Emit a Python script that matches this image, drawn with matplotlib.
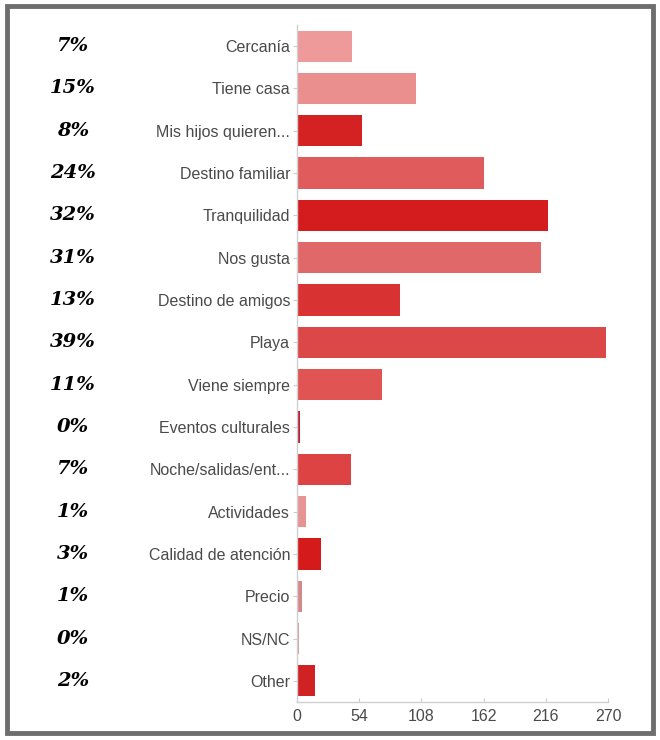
import matplotlib.pyplot as plt
import matplotlib.transforms as mtransforms
from matplotlib.patches import Rectangle

categories = ['Cercanía', 'Tiene casa', 'Mis hijos quieren...', 'Destino familiar',
              'Tranquilidad', 'Nos gusta', 'Destino de amigos', 'Playa',
              'Viene siempre', 'Eventos culturales', 'Noche/salidas/ent...',
              'Actividades', 'Calidad de atención', 'Precio', 'NS/NC', 'Other']
counts = [48, 103, 56, 162, 218, 212, 89, 268, 74, 3, 47, 8, 21, 4, 2, 16]
percents = ['7%', '15%', '8%', '24%', '32%', '31%', '13%', '39%',
            '11%', '0%', '7%', '1%', '3%', '1%', '0%', '2%']
colors = ['#EE9A9A', '#EA8E8E', '#D42222', '#E05C5C', '#D41B1E', '#E06868',
          '#D83232', '#DC4747', '#E05454', '#B82434', '#DE4343', '#E89393',
          '#D41A1A', '#D58888', '#D89A9A', '#D02222']
xticks = [0, 54, 108, 162, 216, 270]

fig = plt.figure(figsize=(6.6, 7.4), dpi=100)
fig.patch.set_facecolor('white')

# grey picture frame
fig.patches.append(Rectangle((7 / 660, 7 / 740), 646 / 660, 727 / 740,
                             transform=fig.transFigure, fill=False,
                             edgecolor='#6e6e6e', linewidth=3.5))

ax = fig.add_axes([297 / 660, 1 - 702 / 740, 311 / 660, 677 / 740])
y = list(range(len(categories)))
ax.barh(y, counts, height=0.74, color=colors, edgecolor='none')
ax.set_ylim(len(categories) - 0.5, -0.5)
ax.set_xlim(0, 270)

ax.set_yticks(y)
ax.set_yticklabels(categories, fontsize=11.5, color='#4a4a4a', family='Liberation Sans')
ax.set_xticks(xticks)
ax.set_xticklabels([str(t) for t in xticks], fontsize=11.5, color='#4a4a4a',
                   family='Liberation Sans')
ax.tick_params(axis='y', length=3, color='#cccccc', pad=2)
ax.tick_params(axis='x', length=3, color='#cccccc', direction='in', pad=5)

for side in ['top', 'right']:
    ax.spines[side].set_visible(False)
for side in ['left', 'bottom']:
    ax.spines[side].set_color('#d0d0d0')
    ax.spines[side].set_linewidth(1)

# percentages written in the left margin
trans = mtransforms.blended_transform_factory(fig.transFigure, ax.transData)
for yi, p in zip(y, percents):
    ax.text(73 / 660, yi, p, transform=trans, ha='center', va='center',
            fontsize=14, fontweight='heavy', fontstyle='italic',
            family='DejaVu Serif', color='#000000')

fig.savefig('out.png', dpi=100)
